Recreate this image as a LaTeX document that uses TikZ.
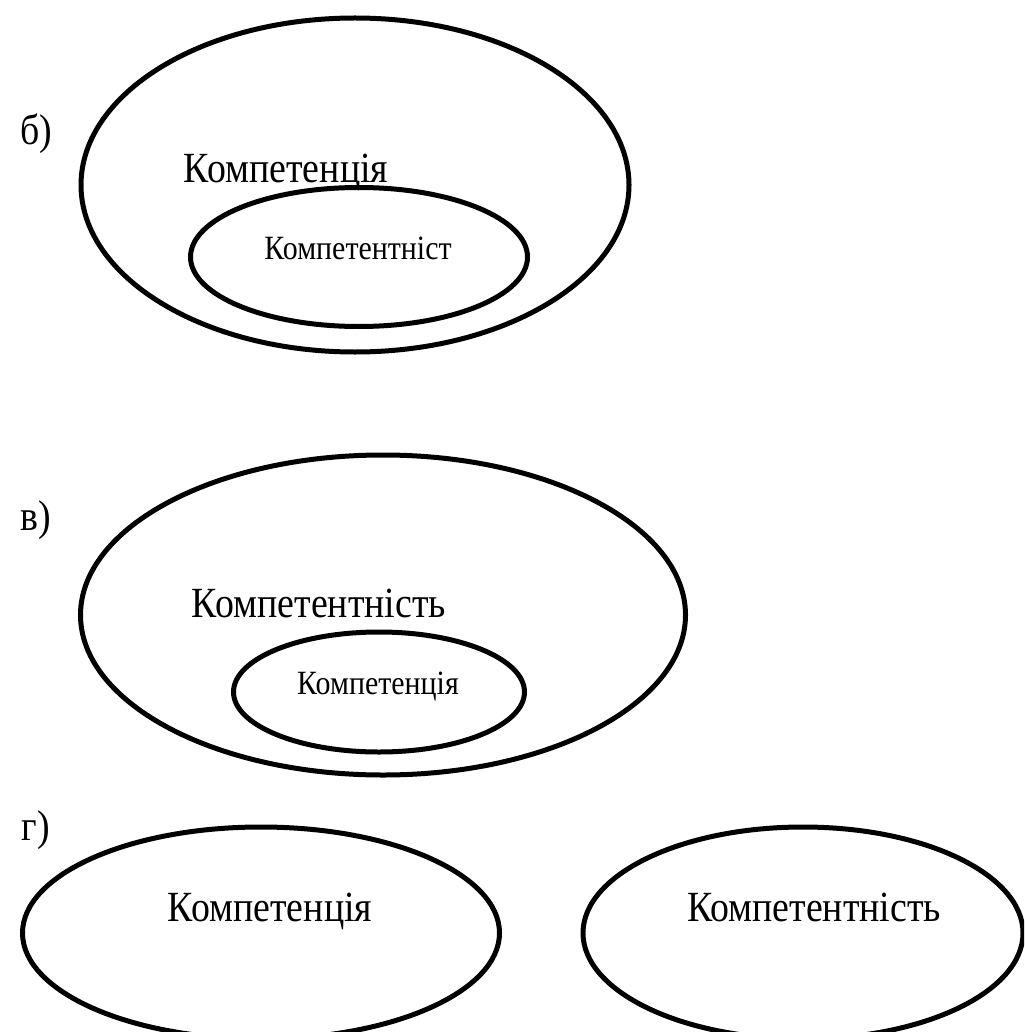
\documentclass[tikz,border=0pt]{standalone}
\usepackage{fontspec}
\setmainfont{Liberation Serif}
\newfontfamily\condserif[FakeStretch=0.88]{Liberation Serif}
\usetikzlibrary{shapes}

\begin{document}
\begin{tikzpicture}[x=1pt, y=-1pt,
                        venn/.style={draw=black, ellipse, line width=5pt, inner sep=0pt},
                        big/.style={font=\condserif\fontsize{43}{46}\selectfont, inner sep=0pt, anchor=base},
                        small/.style={font=\condserif\fontsize{34}{37}\selectfont, inner sep=0pt, anchor=base}]
                        \useasboundingbox (0,0) rectangle (1024,1032);
                        \clip (0,0) rectangle (1024,1032);
                        % b) competence contains competency
                        \node[big] (lblB) at (36,145) {б)};
                        \node[venn, minimum width=548pt, minimum height=334pt] (outerB) at (355,185) {};
                        \node[venn, minimum width=337pt, minimum height=139pt] (innerB) at (359,257) {};
                        \node[big] (textOuterB) at (286,183) {Компетенція};
                        \node[small] (textInnerB) at (358,259) {Компетентніст};
                        % v) competency contains competence
                        \node[big] (lblV) at (36,530) {в)};
                        \node[venn, minimum width=605pt, minimum height=320pt] (outerV) at (383,615) {};
                        \node[venn, minimum width=291pt, minimum height=120pt] (innerV) at (379,692) {};
                        \node[big] (textOuterV) at (319,617) {Компетентність};
                        \node[small] (textInnerV) at (378,694) {Компетенція};
                        % g) two separate notions
                        \node[big] (lblG) at (36,840) {г)};
                        \node[venn, minimum width=477pt, minimum height=212pt] (leftG) at (261,933) {};
                        \node[venn, minimum width=440pt, minimum height=212pt] (rightG) at (803,933) {};
                        \node[big] (textLeftG) at (270,921) {Компетенція};
                        \node[big] (textRightG) at (814,921) {Компетентність};
                    \end{tikzpicture}
\end{document}
